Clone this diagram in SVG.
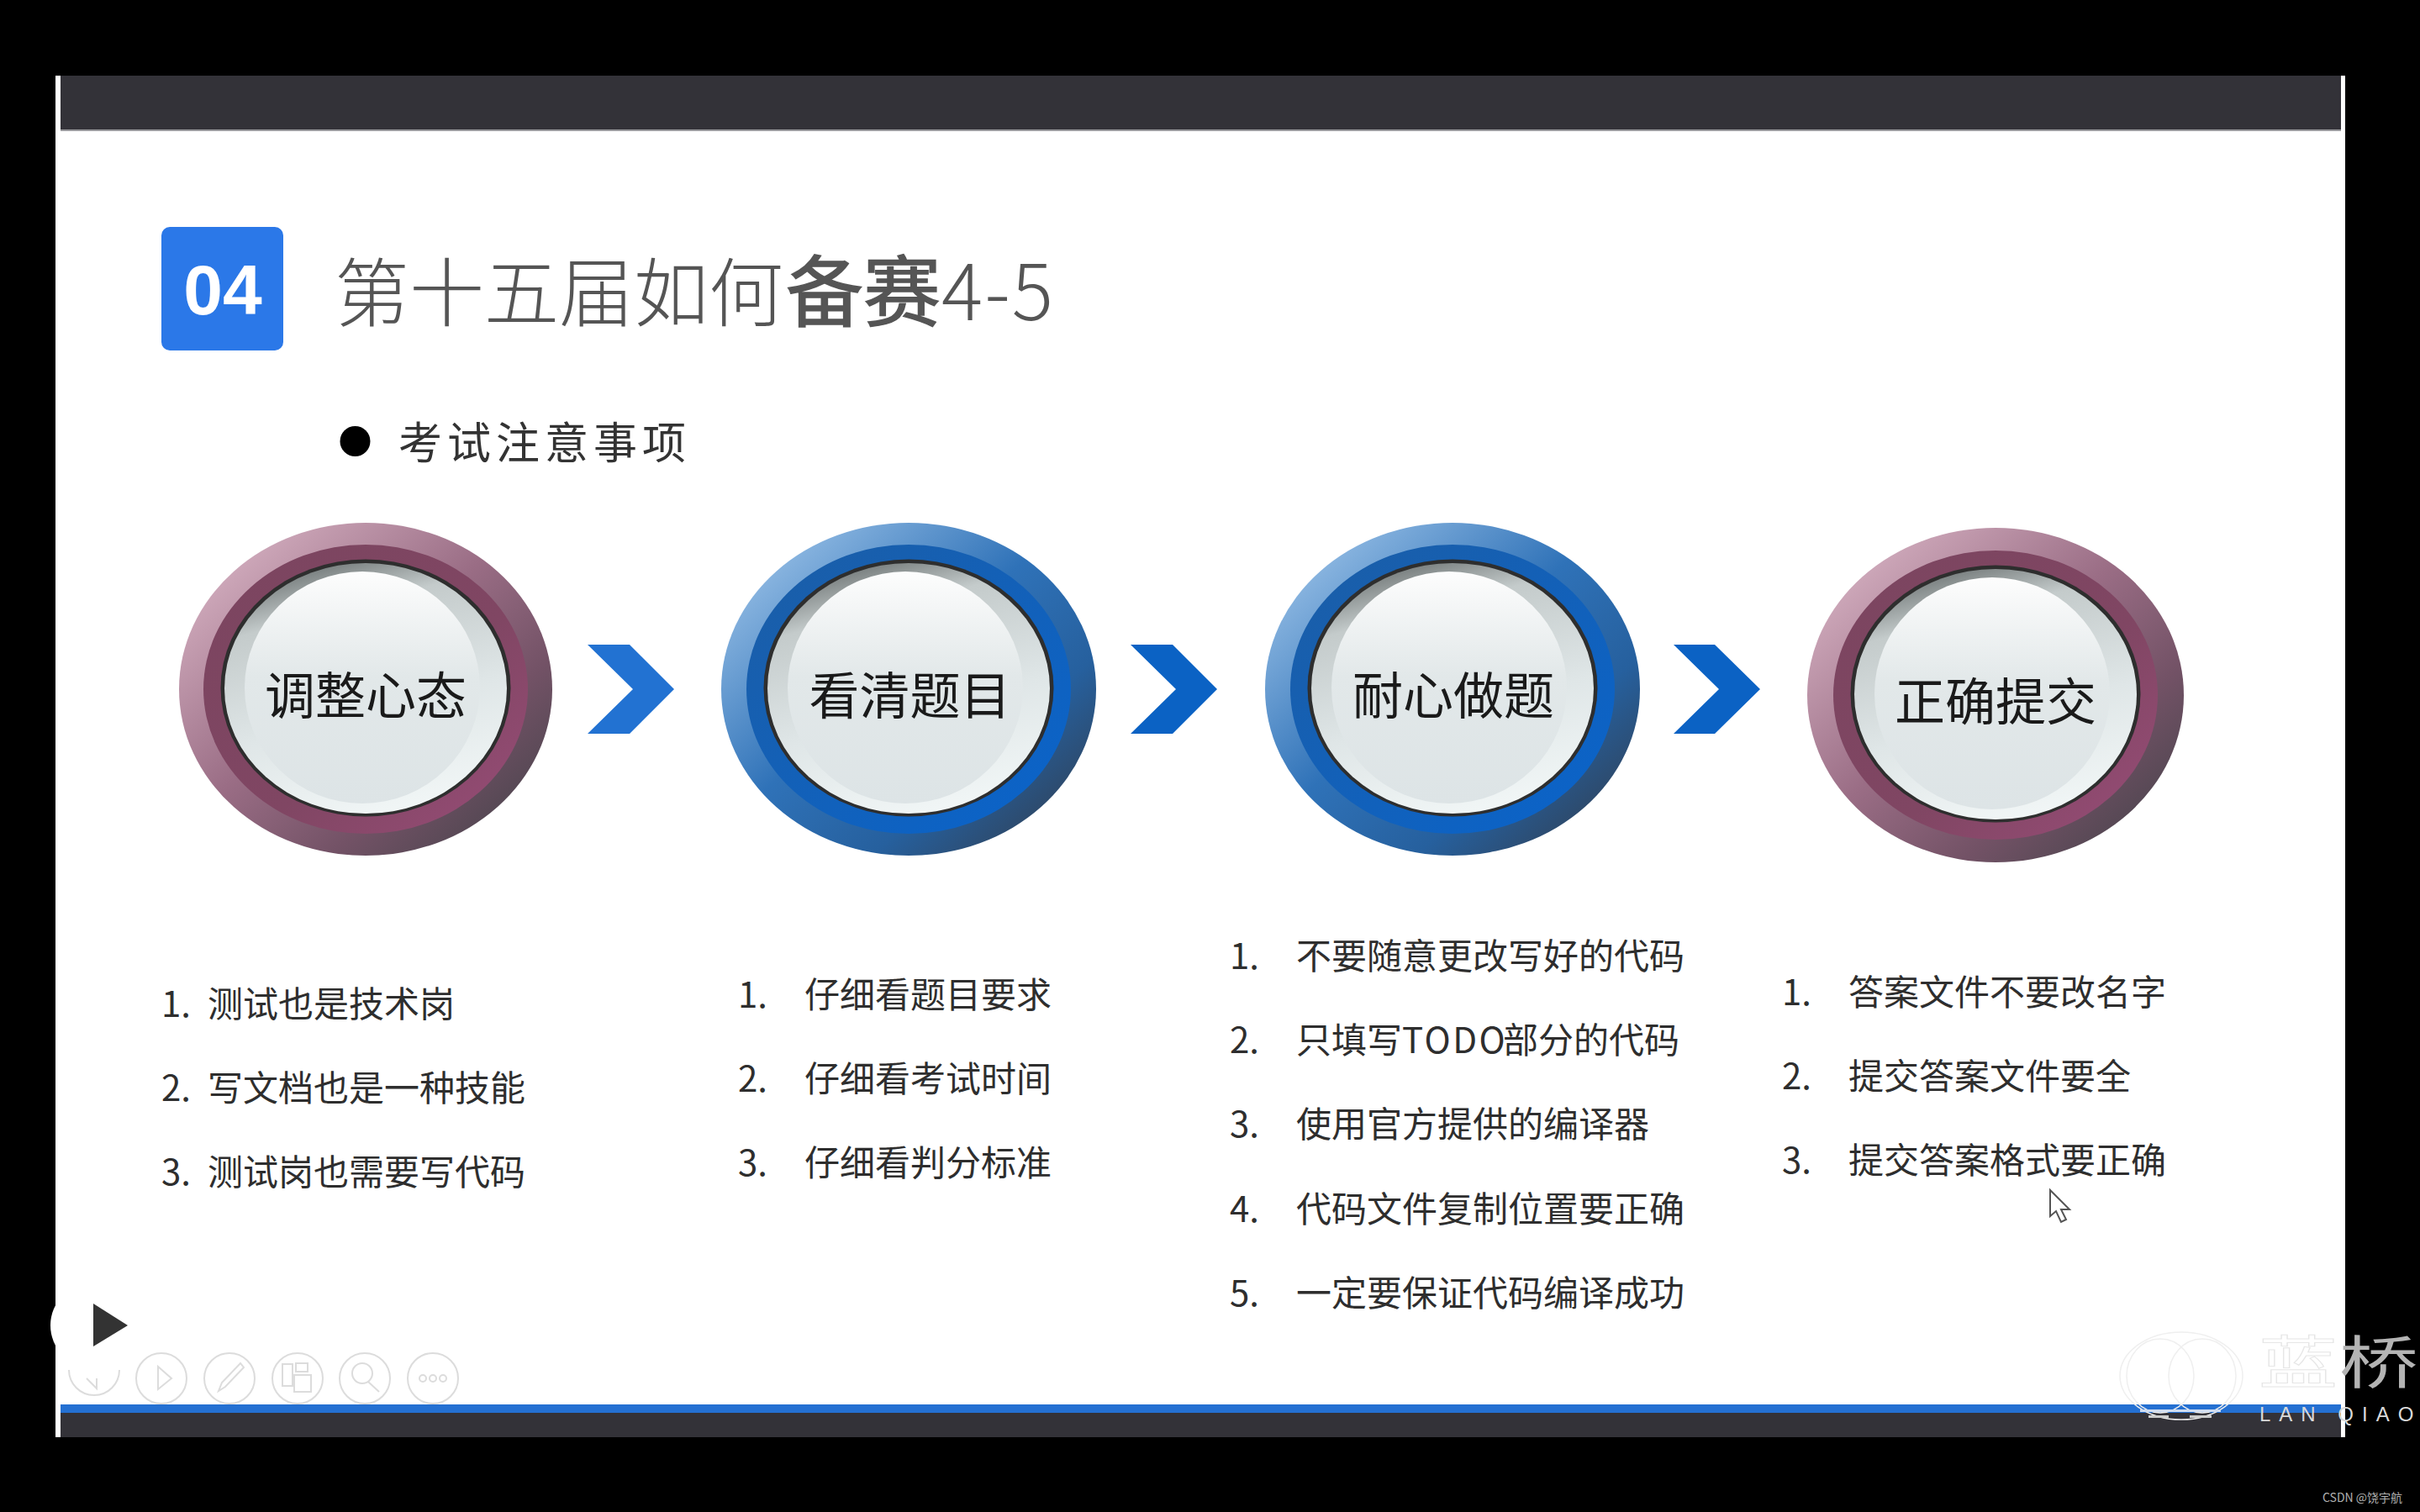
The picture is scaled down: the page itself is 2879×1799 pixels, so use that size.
<svg xmlns="http://www.w3.org/2000/svg" width="2879" height="1799" viewBox="0 0 2879 1799">
<style>
.cjk{font-family:"Noto Sans CJK SC","Noto Sans",sans-serif}
.li{font-size:42px;fill:#2e2e2e}
.lab{font-size:60px;fill:#1a1a1a;text-anchor:middle}
.tool{fill:none;stroke:#dcdcdc;stroke-width:2}
.bar{fill:#333238}
.logo{fill:none;stroke:#efefef;stroke-width:1.500}
</style>
<defs>
<linearGradient id="pOuter" x1="0.1" y1="0.1" x2="0.9" y2="0.9"><stop offset="0" stop-color="#d3aebf"/><stop offset="0.45" stop-color="#9a6d85"/><stop offset="0.75" stop-color="#735266"/><stop offset="1" stop-color="#4f4650"/></linearGradient>
<linearGradient id="pMid" x1="0.1" y1="0.1" x2="0.9" y2="0.9"><stop offset="0" stop-color="#7c4560"/><stop offset="0.6" stop-color="#804663"/><stop offset="1" stop-color="#934b73"/></linearGradient>
<linearGradient id="bOuter" x1="0.1" y1="0.1" x2="0.9" y2="0.9"><stop offset="0" stop-color="#93bce4"/><stop offset="0.45" stop-color="#2f72b8"/><stop offset="0.75" stop-color="#26609e"/><stop offset="1" stop-color="#2f4560"/></linearGradient>
<linearGradient id="bMid" x1="0.1" y1="0.1" x2="0.9" y2="0.9"><stop offset="0" stop-color="#1a5ea9"/><stop offset="1" stop-color="#0b63c8"/></linearGradient>
<linearGradient id="bevel" x1="0.3" y1="0" x2="0.6" y2="1"><stop offset="0" stop-color="#6f7575"/><stop offset="0.2" stop-color="#c4cbcb"/><stop offset="0.6" stop-color="#dfe6e7"/><stop offset="1" stop-color="#f1f6f6"/></linearGradient>
<linearGradient id="face" x1="0.5" y1="0" x2="0.5" y2="1"><stop offset="0" stop-color="#fdfdfd"/><stop offset="0.45" stop-color="#e2e8e9"/><stop offset="1" stop-color="#dde4e6"/></linearGradient>
<g id="inner">
<ellipse cx="0" cy="-1.500" rx="172.500" ry="153" fill="#2e2e2e"/>
<ellipse cx="0" cy="-1" rx="168" ry="149" fill="url(#bevel)"/>
<ellipse cx="-4" cy="-2" rx="140" ry="138" fill="url(#face)"/>
</g>
</defs>
<rect width="2879" height="1799" fill="#000"/>
<rect x="66" y="90" width="2724" height="1620" fill="#fff"/>
<rect class="bar" x="72" y="90" width="2713" height="64"/>
<rect x="72" y="154" width="2713" height="2" fill="#9a9a9e"/>
<rect x="72" y="1671" width="2713" height="10" fill="#2470d2"/>
<rect class="bar" x="72" y="1681" width="2713" height="29"/>

<g id="badge"><rect x="192" y="270" width="145" height="147" rx="10" fill="#2b78e8"/><text x="265" y="374" text-anchor="middle" font-family="'Liberation Sans',Arial,sans-serif" font-weight="700" font-size="84" fill="#fff">04</text></g>
<text class="cjk" y="381" font-size="89" fill="#555" font-weight="300"><tspan x="398">第十五届如何</tspan><tspan x="935" font-weight="400" font-size="92" stroke="#555" stroke-width="1.500">备赛</tspan><tspan x="1120" font-size="92" letter-spacing="2">4-5</tspan></text>
<circle cx="422.500" cy="525" r="18" fill="#000"/>
<text class="cjk" x="474" y="546" font-size="52" letter-spacing="6" fill="#333">考试注意事项</text>

<g id="node-1" transform="translate(435 820)"><ellipse rx="222" ry="198" fill="url(#pOuter)"/><ellipse rx="193" ry="172" fill="url(#pMid)"/><use href="#inner"/><text class="cjk lab" y="30">调整心态</text></g>
<g id="node-2" transform="translate(1081 820)"><ellipse rx="223" ry="198" fill="url(#bOuter)"/><ellipse rx="193" ry="172" fill="url(#bMid)"/><use href="#inner"/><text class="cjk lab" x="1.500" y="30">看清题目</text></g>
<g id="node-3" transform="translate(1728 820)"><ellipse rx="223" ry="198" fill="url(#bOuter)"/><ellipse rx="193" ry="172" fill="url(#bMid)"/><use href="#inner"/><text class="cjk lab" x="1" y="30">耐心做题</text></g>
<g id="node-4" transform="translate(2374 827)"><ellipse rx="224" ry="199" fill="url(#pOuter)"/><ellipse rx="193" ry="172" fill="url(#pMid)"/><use href="#inner"/><text class="cjk lab" y="30">正确提交</text></g>

<g id="connectors">
<polygon points="699,767 749,767 802,820 749,873 699,873 753,820" fill="#2272d2"/>
<polygon points="1345,767 1395,767 1448,820 1395,873 1345,873 1399,820" fill="#0b62c4"/>
<polygon points="1991,767 2040,767 2094,820 2040,873 1991,873 2045,820" fill="#0b62c4"/>
</g>

<g id="list-1" class="cjk li">
<text y="1210"><tspan x="192">1.</tspan><tspan x="247">测试也是技术岗</tspan></text>
<text y="1310"><tspan x="192">2.</tspan><tspan x="247">写文档也是一种技能</tspan></text>
<text y="1410"><tspan x="192">3.</tspan><tspan x="247">测试岗也需要写代码</tspan></text>
</g>
<g id="list-2" class="cjk li">
<text y="1199"><tspan x="878">1.</tspan><tspan x="957">仔细看题目要求</tspan></text>
<text y="1299"><tspan x="878">2.</tspan><tspan x="957">仔细看考试时间</tspan></text>
<text y="1399"><tspan x="878">3.</tspan><tspan x="957">仔细看判分标准</tspan></text>
</g>
<g id="list-3" class="cjk li">
<text y="1153"><tspan x="1463">1.</tspan><tspan x="1542">不要随意更改写好的代码</tspan></text>
<text y="1253"><tspan x="1463">2.</tspan><tspan x="1542">只填写</tspan><tspan letter-spacing="2.500">TODO</tspan><tspan x="1788">部分的代码</tspan></text>
<text y="1353"><tspan x="1463">3.</tspan><tspan x="1542">使用官方提供的编译器</tspan></text>
<text y="1454"><tspan x="1463">4.</tspan><tspan x="1542">代码文件复制位置要正确</tspan></text>
<text y="1554"><tspan x="1463">5.</tspan><tspan x="1542">一定要保证代码编译成功</tspan></text>
</g>
<g id="list-4" class="cjk li">
<text y="1196"><tspan x="2120">1.</tspan><tspan x="2199">答案文件不要改名字</tspan></text>
<text y="1296"><tspan x="2120">2.</tspan><tspan x="2199">提交答案文件要全</tspan></text>
<text y="1396"><tspan x="2120">3.</tspan><tspan x="2199">提交答案格式要正确</tspan></text>
</g>

<polygon points="2439,1416 2439,1447 2446,1441 2452,1454 2458,1451 2452,1439 2462,1439" fill="#fff" stroke="#555" stroke-width="2"/>

<g id="toolbar">
<circle cx="110" cy="1577" r="50" fill="#fff"/>
<polygon points="111,1551 152,1577 111,1602" fill="#333"/>
<path class="tool" d="M 82,1630 A 30,30 0 1 0 142,1630"/><path class="tool" d="M103,1640 L115,1652 L115,1640"/>
<circle class="tool" cx="192" cy="1640" r="30"/><path class="tool" d="M188,1626 L188,1653 L204,1640 Z"/>
<circle class="tool" cx="273" cy="1640" r="30"/><path class="tool" d="M260,1655 L264,1645 L286,1622 L290,1627 L268,1650 Z"/>
<circle class="tool" cx="354" cy="1640" r="30"/><rect class="tool" x="336" y="1623" width="12" height="26"/><rect class="tool" x="352" y="1622" width="14" height="10"/><rect class="tool" x="350" y="1636" width="20" height="20"/>
<circle class="tool" cx="434" cy="1640" r="30"/><circle class="tool" cx="431" cy="1634" r="12" stroke-width="4"/><path class="tool" d="M438,1644 L451,1656" stroke-width="4"/>
<circle class="tool" cx="515" cy="1640" r="30"/><circle class="tool" cx="503" cy="1640" r="4"/><circle class="tool" cx="515" cy="1640" r="4"/><circle class="tool" cx="527" cy="1640" r="4"/>
</g>

<g id="logo">
<ellipse class="logo" cx="2595" cy="1637" rx="73" ry="52"/>
<ellipse class="logo" cx="2570" cy="1637" rx="40" ry="44"/>
<ellipse class="logo" cx="2620" cy="1637" rx="40" ry="44"/>
<rect x="2546" y="1677" width="96" height="3" fill="#cfdcf0"/><rect x="2556" y="1684" width="24" height="3" fill="#ccc"/><rect x="2605" y="1684" width="26" height="3" fill="#ccc"/>
<text class="cjk" transform="translate(2687 1646) scale(1.38 1)" font-size="68" fill="#fff" stroke="#e6e6e6" stroke-width="1">蓝</text>
<text class="cjk" transform="translate(2783 1646) scale(1.38 1)" font-size="68" fill="#b4b4b4">桥</text>
<text x="2688" y="1691" font-family="'Liberation Sans',Arial,sans-serif" font-size="24" letter-spacing="10" fill="#d9d9d9">LAN QIAO</text>
</g>
<text class="cjk" x="2763" y="1787" font-size="14" fill="#b0b0b0">CSDN @饶宇航</text>
</svg>
